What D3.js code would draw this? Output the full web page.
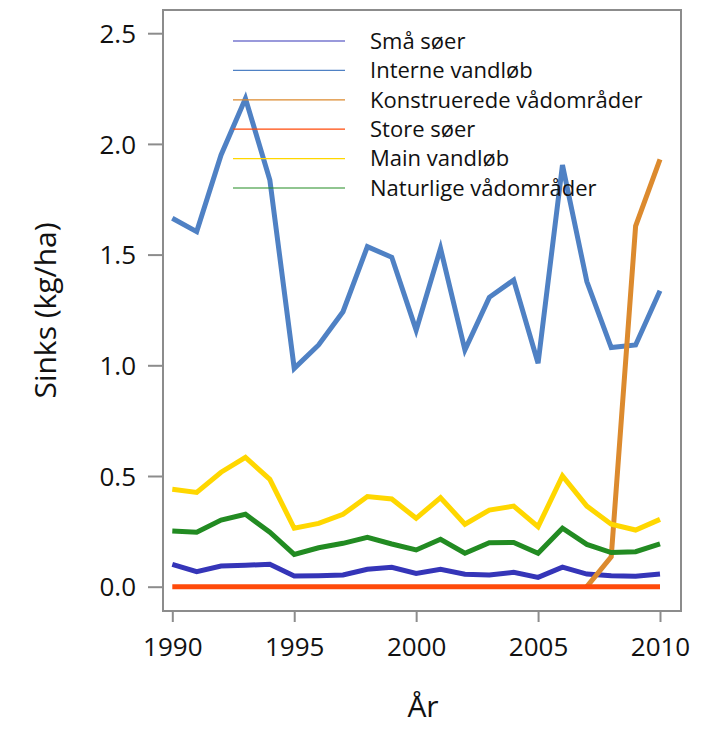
<!DOCTYPE html>
<html>
<head>
<meta charset="utf-8">
<script src="https://cdn.jsdelivr.net/npm/d3@7"></script>
<style>
  body { margin: 0; background: #fff; }
  text { font-family: "Open Sans", "DejaVu Sans", sans-serif; fill: #111; }
</style>
</head>
<body>
<div id="chart"></div>
<script>
// Sinks per year for each water body type
const years = d3.range(1990, 2011);
const smaaSoer      = [0.101, 0.068, 0.093, 0.097, 0.101, 0.048, 0.050, 0.053, 0.079, 0.088, 0.060, 0.079, 0.056, 0.053, 0.065, 0.042, 0.088, 0.057, 0.050, 0.047, 0.057];
const interneVandl  = [1.664, 1.604, 1.950, 2.205, 1.837, 0.986, 1.092, 1.242, 1.536, 1.488, 1.159, 1.528, 1.069, 1.307, 1.385, 1.009, 1.905, 1.378, 1.080, 1.092, 1.337];
const konstrVaad    = [0, 0, 0, 0, 0, 0, 0, 0, 0, 0, 0, 0, 0, 0, 0, 0, 0, 0, 0.135, 1.629, 1.930];
const storeSoer     = [0, 0, 0, 0, 0, 0, 0, 0, 0, 0, 0, 0, 0, 0, 0, 0, 0, 0, 0, 0, 0];
const mainVandl     = [0.440, 0.426, 0.517, 0.584, 0.485, 0.264, 0.286, 0.327, 0.407, 0.396, 0.309, 0.402, 0.282, 0.346, 0.364, 0.271, 0.500, 0.364, 0.282, 0.256, 0.304];
const naturligeVaad = [0.252, 0.246, 0.301, 0.327, 0.246, 0.146, 0.176, 0.196, 0.223, 0.193, 0.166, 0.214, 0.151, 0.199, 0.200, 0.151, 0.264, 0.191, 0.154, 0.158, 0.193];

const seriesNames  = ['Små søer', 'Interne vandløb', 'Konstruerede vådområder', 'Store søer', 'Main vandløb', 'Naturlige vådområder'];
const seriesValues = [smaaSoer, interneVandl, konstrVaad, storeSoer, mainVandl, naturligeVaad];
const seriesColors = ['#3535b8', '#4f81c4', '#dc8a2e', '#ff4a0a', '#ffd700', '#228b22'];
// konstruerede only starts in 2007
const seriesStart  = [1990, 1990, 2007, 1990, 1990, 1990];

const yTicks = [0, 0.5, 1.0, 1.5, 2.0, 2.5];
const xTicks = [1990, 1995, 2000, 2005, 2010];

const W = 726, H = 729;
const frame = { left: 163, right: 681, top: 10, bottom: 611 };

const svg = d3.select('#chart').append('svg')
    .attr('width', W)
    .attr('height', H);

const x = d3.scaleLinear().domain([1990, 2010]).range([172.3, 660]);
const y = d3.scaleLinear().domain([0, 2.5]).range([586.7, 33.2]);

// Frame box
svg.append('rect')
    .attr('x', frame.left)
    .attr('y', frame.top)
    .attr('width', frame.right - frame.left)
    .attr('height', frame.bottom - frame.top)
    .attr('fill', 'none')
    .attr('stroke', '#8c8c8c')
    .attr('stroke-width', 2);

// Axes (ticks outside the frame)
const yAxis = svg.append('g')
    .attr('transform', `translate(${frame.left},0)`)
    .call(d3.axisLeft(y).tickValues(yTicks).tickFormat(d3.format('.1f')).tickSize(15).tickPadding(12));

const xAxis = svg.append('g')
    .attr('transform', `translate(0,${frame.bottom})`)
    .call(d3.axisBottom(x).tickValues(xTicks).tickFormat(d3.format('d')).tickSize(11).tickPadding(20));

[yAxis, xAxis].forEach(g => {
    g.select('.domain').remove();
    g.selectAll('.tick line').attr('stroke', '#8c8c8c').attr('stroke-width', 2);
    g.selectAll('.tick text')
        .attr('font-size', 26)
        .attr('fill', '#111')
        .style('font-family', '"Open Sans", "DejaVu Sans", sans-serif');
});
yAxis.selectAll('.tick text').attr('dy', '0.35em');
xAxis.selectAll('.tick text').attr('dy', '0.55em');

// Axis titles
svg.append('text')
    .attr('transform', `translate(56,${(frame.top + frame.bottom) / 2}) rotate(-90)`)
    .attr('text-anchor', 'middle')
    .attr('font-size', 30)
    .text('Sinks (kg/ha)');

svg.append('text')
    .attr('x', 423)
    .attr('y', 717)
    .attr('text-anchor', 'middle')
    .attr('font-size', 30)
    .text('År');

// Lines
const line = d3.line()
    .x(d => x(d.year))
    .y(d => y(d.value));

const linesG = svg.append('g');
seriesValues.forEach((vals, i) => {
    const pts = years.map((yr, j) => ({ year: yr, value: vals[j] }))
        .filter(d => d.year >= seriesStart[i]);
    linesG.append('path')
        .datum(pts)
        .attr('d', line)
        .attr('fill', 'none')
        .attr('stroke', seriesColors[i])
        .attr('stroke-width', 5)
        .attr('stroke-linejoin', 'miter');
});

// Legend
const legend = svg.append('g');
seriesNames.forEach((name, i) => {
    const ly = 41 + i * 29.4;
    legend.append('line')
        .attr('x1', 233).attr('x2', 345)
        .attr('y1', ly).attr('y2', ly)
        .attr('stroke', seriesColors[i])
        .attr('stroke-width', 1.2);
    legend.append('text')
        .attr('x', 370)
        .attr('y', ly)
        .attr('dy', '0.35em')
        .attr('font-size', 22)
        .text(name);
});
</script>
</body>
</html>
